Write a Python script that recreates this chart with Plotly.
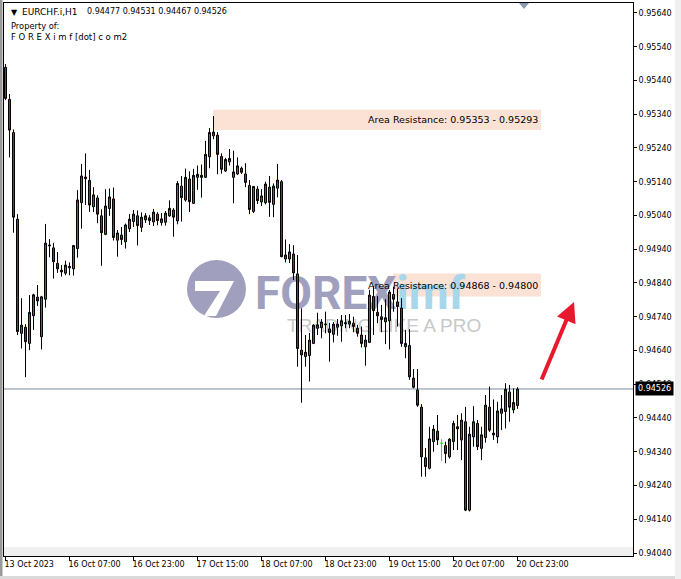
import plotly.graph_objects as go

# ---------------- data (EURCHF.i, H1) ----------------
opens = [0.95479, 0.95384, 0.95286, 0.95029, 0.94691, 0.94709, 0.94661, 0.94743, 0.94798, 0.94681,
         0.94792, 0.94950, 0.94944, 0.94898, 0.94878, 0.94869, 0.94885, 0.94882, 0.94942, 0.95078,
         0.95154, 0.95144, 0.95066, 0.95092, 0.95039, 0.94984, 0.95061, 0.95089, 0.94967, 0.94982,
         0.94962, 0.95001, 0.95022, 0.95039, 0.95005, 0.95027, 0.95033, 0.95021, 0.95044, 0.95019,
         0.95020, 0.95039, 0.95056, 0.95024, 0.95127, 0.95086, 0.95148, 0.95076, 0.95153, 0.95153,
         0.95153, 0.95214, 0.95276, 0.95278, 0.95215, 0.95172, 0.95199, 0.95153, 0.95163, 0.95180,
         0.95163, 0.95129, 0.95052, 0.95118, 0.95080, 0.95078, 0.95124, 0.95073, 0.95121, 0.95140,
         0.94911, 0.94911, 0.94926, 0.94867, 0.94641, 0.94622, 0.94625, 0.94661, 0.94706, 0.94708,
         0.94716, 0.94704, 0.94688, 0.94709, 0.94713, 0.94719, 0.94718, 0.94721, 0.94706, 0.94686,
         0.94651, 0.94664, 0.94800, 0.94753, 0.94740, 0.94725, 0.94728, 0.94806, 0.94784, 0.94766,
         0.94651, 0.94655, 0.94558, 0.94523, 0.94472, 0.94322, 0.94291, 0.94370, 0.94401, 0.94365,
         0.94358, 0.94325, 0.94370, 0.94414, 0.94375, 0.94429, 0.94167, 0.94384, 0.94424, 0.94350,
         0.94382, 0.94472, 0.94395, 0.94384, 0.94454, 0.94459, 0.94517, 0.94464, 0.94477]
highs = [0.95489, 0.95400, 0.95295, 0.95044, 0.94795, 0.94718, 0.94804, 0.94808, 0.94834, 0.94802,
         0.95015, 0.94970, 0.94959, 0.94932, 0.94893, 0.94906, 0.94901, 0.94952, 0.95115, 0.95193,
         0.95224, 0.95175, 0.95124, 0.95100, 0.95058, 0.95118, 0.95120, 0.95123, 0.94997, 0.95006,
         0.95016, 0.95044, 0.95056, 0.95055, 0.95049, 0.95047, 0.95041, 0.95059, 0.95050, 0.95047,
         0.95053, 0.95085, 0.95062, 0.95142, 0.95157, 0.95179, 0.95171, 0.95178, 0.95188, 0.95191,
         0.95261, 0.95299, 0.95335, 0.95287, 0.95224, 0.95211, 0.95237, 0.95232, 0.95212, 0.95185,
         0.95195, 0.95145, 0.95127, 0.95127, 0.95118, 0.95140, 0.95157, 0.95135, 0.95193, 0.95145,
         0.94969, 0.94955, 0.94952, 0.94923, 0.94765, 0.94686, 0.94692, 0.94718, 0.94752, 0.94733,
         0.94755, 0.94722, 0.94724, 0.94733, 0.94745, 0.94745, 0.94748, 0.94740, 0.94716, 0.94711,
         0.94686, 0.94819, 0.94831, 0.94801, 0.94775, 0.94792, 0.94819, 0.94829, 0.94824, 0.94795,
         0.94701, 0.94703, 0.94585, 0.94585, 0.94481, 0.94351, 0.94414, 0.94419, 0.94449, 0.94377,
         0.94370, 0.94380, 0.94432, 0.94449, 0.94454, 0.94473, 0.94414, 0.94475, 0.94434, 0.94414,
         0.94508, 0.94533, 0.94495, 0.94488, 0.94508, 0.94543, 0.94538, 0.94528, 0.94531]
lows = [0.95382, 0.95212, 0.94989, 0.94686, 0.94646, 0.94561, 0.94641, 0.94701, 0.94772, 0.94643,
        0.94767, 0.94916, 0.94853, 0.94870, 0.94859, 0.94863, 0.94863, 0.94862, 0.94915, 0.95001,
        0.95071, 0.95051, 0.95050, 0.95017, 0.94891, 0.94982, 0.95039, 0.94966, 0.94918, 0.94953,
        0.94942, 0.94991, 0.95006, 0.94951, 0.94991, 0.95018, 0.95012, 0.95009, 0.95011, 0.95010,
        0.95010, 0.95036, 0.94977, 0.95014, 0.95022, 0.95081, 0.95050, 0.95074, 0.95116, 0.95093,
        0.95151, 0.95180, 0.95266, 0.95162, 0.95164, 0.95169, 0.95188, 0.95076, 0.95160, 0.95163,
        0.95124, 0.95044, 0.95047, 0.95074, 0.95068, 0.95073, 0.95036, 0.95035, 0.95094, 0.94916,
        0.94901, 0.94899, 0.94849, 0.94592, 0.94485, 0.94592, 0.94548, 0.94659, 0.94686, 0.94676,
        0.94691, 0.94607, 0.94664, 0.94684, 0.94666, 0.94706, 0.94706, 0.94694, 0.94681, 0.94649,
        0.94595, 0.94662, 0.94686, 0.94721, 0.94694, 0.94659, 0.94643, 0.94755, 0.94711, 0.94651,
        0.94617, 0.94553, 0.94528, 0.94473, 0.94266, 0.94266, 0.94288, 0.94340, 0.94360, 0.94313,
        0.94306, 0.94320, 0.94345, 0.94345, 0.94315, 0.94164, 0.94163, 0.94355, 0.94345, 0.94315,
        0.94367, 0.94399, 0.94375, 0.94365, 0.94404, 0.94409, 0.94429, 0.94454, 0.94467]
closes = [0.95387, 0.95293, 0.95035, 0.94696, 0.94715, 0.94666, 0.94753, 0.94805, 0.94787, 0.94799,
          0.94958, 0.94952, 0.94903, 0.94882, 0.94873, 0.94893, 0.94889, 0.94951, 0.95086, 0.95157,
          0.95149, 0.95071, 0.95101, 0.95044, 0.94989, 0.95068, 0.95095, 0.94975, 0.94988, 0.94969,
          0.95012, 0.95029, 0.95044, 0.95010, 0.95035, 0.95039, 0.95025, 0.95050, 0.95025, 0.95030,
          0.95047, 0.95061, 0.95035, 0.95135, 0.95093, 0.95153, 0.95081, 0.95159, 0.95162, 0.95159,
          0.95221, 0.95286, 0.95287, 0.95221, 0.95177, 0.95206, 0.95209, 0.95169, 0.95187, 0.95168,
          0.95138, 0.95058, 0.95126, 0.95084, 0.95098, 0.95133, 0.95079, 0.95127, 0.95145, 0.94918,
          0.94923, 0.94932, 0.94870, 0.94646, 0.94627, 0.94635, 0.94671, 0.94715, 0.94716, 0.94724,
          0.94718, 0.94693, 0.94718, 0.94718, 0.94728, 0.94722, 0.94727, 0.94711, 0.94691, 0.94661,
          0.94671, 0.94804, 0.94758, 0.94743, 0.94732, 0.94737, 0.94813, 0.94792, 0.94770, 0.94661,
          0.94661, 0.94562, 0.94531, 0.94478, 0.94325, 0.94296, 0.94378, 0.94407, 0.94375, 0.94365,
          0.94335, 0.94377, 0.94424, 0.94408, 0.94434, 0.94167, 0.94392, 0.94429, 0.94355, 0.94390,
          0.94478, 0.94404, 0.94390, 0.94461, 0.94467, 0.94525, 0.94472, 0.94486, 0.94526]

x_tick_bars = [0, 16, 32, 48, 64, 80, 96, 112, 128]
x_tick_labels = ["13 Oct 2023", "16 Oct 07:00", "16 Oct 23:00", "17 Oct 15:00", "18 Oct 07:00",
                 "18 Oct 23:00", "19 Oct 15:00", "20 Oct 07:00", "20 Oct 23:00"]
y_tick_labels = ["0.94040", "0.94140", "0.94240", "0.94340", "0.94440", "0.94540", "0.94640",
                 "0.94740", "0.94840", "0.94940", "0.95040", "0.95140", "0.95240", "0.95340",
                 "0.95440", "0.95540", "0.95640"]

zone_high = [0.95353, 0.94868]
zone_low = [0.95293, 0.94800]
zone_start_bar = [51.875, 96.875]
zone_end_bar = 133.875
bid_price = 0.94526

symbol = "EURCHF.i,H1"

# ---------------- layout geometry ----------------
W, H = 681, 579
ML, MR, MT, MB = 4, 48, 3, 23
PW, PH = W - ML - MR, H - MT - MB
X_RANGE = [-0.375, 156.875]
Y_RANGE = [0.940311, 0.956696]


def pxx(x):
    return (x - ML) / PW


def pxy(y):
    return (H - MB - y) / PH


def dx(x):  # pixel -> bar coordinate
    return X_RANGE[0] + (x - ML) / PW * (X_RANGE[1] - X_RANGE[0])


def dy(y):  # pixel -> price coordinate
    return Y_RANGE[1] - (y - MT) / PH * (Y_RANGE[1] - Y_RANGE[0])


n = len(opens)
bars = list(range(n))
is_doji = [o == c for o, c in zip(opens, closes)]
normal = [not d for d in is_doji]


def masked(vals, keep):
    return [v if k else None for v, k in zip(vals, keep)]


fig = go.Figure()
fig.add_trace(go.Candlestick(
    x=bars, open=masked(opens, normal), high=masked(highs, normal),
    low=masked(lows, normal), close=masked(closes, normal),
    increasing=dict(line=dict(color="black", width=1), fillcolor="#00A000"),
    decreasing=dict(line=dict(color="black", width=1), fillcolor="#FF0000"),
    whiskerwidth=0, showlegend=False, hoverinfo="skip"))
fig.add_trace(go.Candlestick(
    x=bars, open=masked(opens, is_doji), high=masked(highs, is_doji),
    low=masked(lows, is_doji), close=masked(closes, is_doji),
    increasing=dict(line=dict(color="#00FF00", width=1), fillcolor="#00FF00"),
    decreasing=dict(line=dict(color="#00FF00", width=1), fillcolor="#00FF00"),
    whiskerwidth=0, showlegend=False, hoverinfo="skip"))

shapes = []
# bottom grey band inside the chart
shapes.append(dict(type="rect", xref="paper", yref="paper", x0=0, x1=1, y0=0, y1=pxy(547),
                   fillcolor="#F0F0F0", line=dict(width=0), layer="below"))
# resistance zones
for zs, zh, zl in zip(zone_start_bar, zone_high, zone_low):
    shapes.append(dict(type="rect", xref="x", yref="y", x0=zs, x1=zone_end_bar, y0=zl, y1=zh,
                       fillcolor="#FBE2D5", line=dict(width=0), layer="below"))
# watermark logo (in data coordinates so it stacks above the zones)
wm = "rgb(160,160,190)"
shapes.append(dict(type="circle", xref="x", yref="y", x0=dx(187), x1=dx(246),
                   y0=dy(318), y1=dy(260), fillcolor=wm, line=dict(width=0), layer="below"))
seven = [(195, 281), (234, 281), (216, 316), (204, 316), (220, 291), (195, 291)]
path = "M " + " L ".join(f"{dx(a):.5f},{dy(b):.6f}" for a, b in seven) + " Z"
shapes.append(dict(type="path", xref="x", yref="y", path=path, fillcolor="white",
                   line=dict(width=0), layer="below"))
shapes.append(dict(type="rect", xref="x", yref="y", x0=dx(252), x1=dx(480),
                   y0=dy(316), y1=dy(264), line=dict(width=0), fillcolor="rgba(0,0,0,0)",
                   layer="below",
                   label=dict(text="<b>FOREX<span style='color:#A8D6EA'>imf</span></b>",
                              textposition="middle left", padding=0,
                              font=dict(family="Roboto", size=46, color=wm))))
shapes.append(dict(type="rect", xref="x", yref="y", x0=dx(284), x1=dx(492),
                   y0=dy(334), y1=dy(313), line=dict(width=0), fillcolor="rgba(0,0,0,0)",
                   layer="below",
                   label=dict(text="TRADING LIKE A PRO", textposition="middle left", padding=0,
                              font=dict(family="Liberation Sans", size=19, color="#C8C8C8"))))
# bid line
shapes.append(dict(type="line", xref="x", yref="y", x0=X_RANGE[0], x1=X_RANGE[1],
                   y0=bid_price, y1=bid_price, line=dict(color="#778899", width=1),
                   layer="below"))
# chart shift marker
tri = [(519, 3), (529, 3), (524, 9)]
shapes.append(dict(type="path", xref="paper", yref="paper",
                   path="M " + " L ".join(f"{pxx(a):.5f},{pxy(b):.5f}" for a, b in tri) + " Z",
                   fillcolor="#8A9AB0", line=dict(width=0)))
# window frame
shapes.append(dict(type="rect", xref="paper", yref="paper", x0=pxx(0), x1=pxx(2.5), y0=pxy(579),
                   y1=pxy(0), fillcolor="#999999", line=dict(width=0)))
shapes.append(dict(type="rect", xref="paper", yref="paper", x0=pxx(0), x1=pxx(681), y0=pxy(579),
                   y1=pxy(576), fillcolor="#DADADA", line=dict(width=0)))
shapes.append(dict(type="rect", xref="paper", yref="paper", x0=pxx(675), x1=pxx(681), y0=pxy(579),
                   y1=pxy(0), fillcolor="#EFEFEF", line=dict(width=0)))

font_ui = "DejaVu Sans"
ann = []
ann.append(dict(xref="paper", yref="paper", x=pxx(8.5), y=pxy(12), text="▼", showarrow=False,
                xanchor="left", yanchor="middle", font=dict(family=font_ui, size=8, color="black")))
ann.append(dict(xref="paper", yref="paper", x=pxx(19.5), y=pxy(11.5), text=symbol, showarrow=False,
                xanchor="left", yanchor="middle", font=dict(family=font_ui, size=9, color="black")))
ann.append(dict(xref="paper", yref="paper", x=pxx(84.5), y=pxy(11.5),
                text=f"{opens[-1]:.5f} {highs[-1]:.5f} {lows[-1]:.5f} {closes[-1]:.5f}",
                showarrow=False, xanchor="left", yanchor="middle",
                font=dict(family=font_ui, size=8, color="black")))
ann.append(dict(xref="paper", yref="paper", x=pxx(8.5), y=pxy(25.5), text="Property of:",
                showarrow=False, xanchor="left", yanchor="middle",
                font=dict(family=font_ui, size=8.3, color="black")))
ann.append(dict(xref="paper", yref="paper", x=pxx(8.5), y=pxy(37.5),
                text="F O R E X i m f [dot] c o m2", showarrow=False, xanchor="left",
                yanchor="middle", font=dict(family=font_ui, size=8.5, color="black")))
for zh, zl in zip(zone_high, zone_low):
    ann.append(dict(xref="paper", yref="y", x=pxx(539.5), y=(zh + zl) / 2,
                    text=f"Area Resistance: {zh:.5f} - {zl:.5f}", showarrow=False,
                    xanchor="right", yanchor="middle",
                    font=dict(family=font_ui, size=9.5, color="black")))
# current price label
ann.append(dict(xref="paper", yref="y", x=pxx(635), y=bid_price, text=f"{bid_price:.5f}",
                showarrow=False, xanchor="left", yanchor="middle", bgcolor="black",
                borderpad=2, font=dict(family=font_ui, size=8, color="white")))
# red arrow
ann.append(dict(xref="paper", yref="paper", x=pxx(574), y=pxy(302), ax=-33, ay=79,
                axref="pixel", ayref="pixel", text="", showarrow=True, arrowhead=2,
                arrowsize=1.0, arrowwidth=4, arrowcolor="#E8192C"))

fig.update_layout(
    width=W, height=H,
    margin=dict(l=ML, r=MR, t=MT, b=MB, pad=0),
    paper_bgcolor="white", plot_bgcolor="white",
    showlegend=False, boxgap=0.5, boxgroupgap=0,
    shapes=shapes, annotations=ann,
    xaxis=dict(range=X_RANGE, rangeslider=dict(visible=False), showgrid=False,
               zeroline=False, showline=True, linecolor="black", linewidth=1, mirror=True,
               ticks="outside", ticklen=4, tickcolor="black", tickwidth=1,
               tickvals=x_tick_bars, ticktext=x_tick_labels, ticklabelposition="outside right",
               ticklabelshift=-2,
               tickfont=dict(family=font_ui, size=8, color="black"), fixedrange=True),
    yaxis=dict(range=Y_RANGE, side="right", showgrid=False, zeroline=False,
               showline=True, linecolor="black", linewidth=1, mirror=True,
               ticks="outside", ticklen=3, tickcolor="black", tickwidth=1,
               tickvals=[float(t) for t in y_tick_labels], ticktext=y_tick_labels,
               tickfont=dict(family=font_ui, size=8, color="black"), fixedrange=True),
)

fig.write_html("out.html", config={"displayModeBar": False},
               post_script="document.body.style.margin='0px';document.body.style.padding='0px';")
